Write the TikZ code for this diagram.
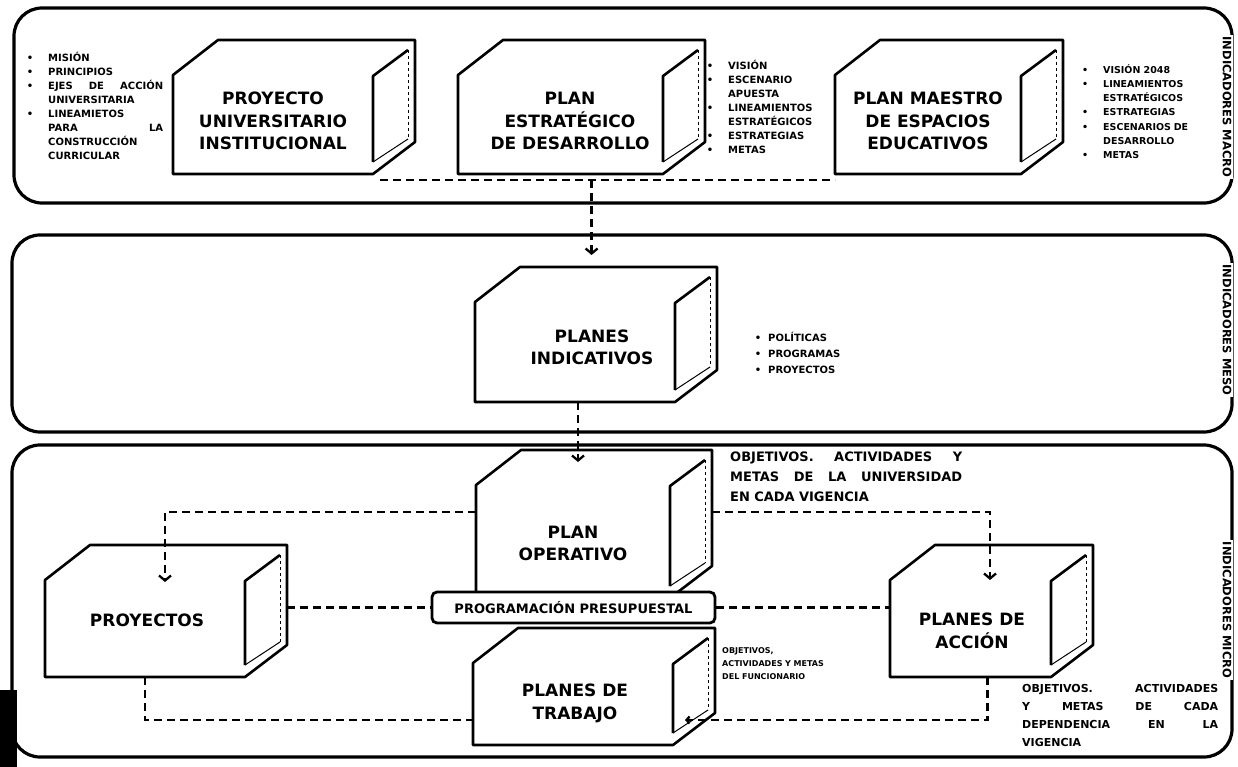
\documentclass[tikz,border=0pt]{standalone}
\usepackage{fontspec}
\setmainfont{DejaVu Sans}
\usetikzlibrary{calc,arrows.meta}
\newcommand{\cubeshape}[1]{%
  \draw[boxline,fill=white] ($(#1.north west)+(0,35)$) -- ($(#1.north west)+(45,0)$) -- (#1.north east) -- ($(#1.south east)+(0,-32)$) -- ($(#1.south east)+(-42,0)$) -- (#1.south west) -- cycle;
  \draw[boxline] ($(#1.south east)+(-42,-12)$) -- ($(#1.north east)+(-42,36)$) -- ($(#1.north east)+(-7,10)$);
  \draw[thinline] ($(#1.south east)+(-42,-12)$) -- ($(#1.south east)+(-7,-35)$);
  \draw[thinline,dashed] ($(#1.north east)+(-7,10)$) -- ($(#1.south east)+(-7,-35)$);
}
\newcommand{\bul}{\leavevmode\llap{\textbullet\hspace{15pt}}}
\newcommand{\sbul}{\leavevmode\llap{\textbullet\hspace{7pt}}}
\begin{document}
\begin{tikzpicture}[x=1pt,y=-1pt,
  boxline/.style={line width=2.6pt,line join=round},
  thinline/.style={line width=1pt},
  region/.style={inner sep=0pt,outer sep=0pt,draw=none},
  bandbox/.style={draw,line width=3.2pt,rounded corners=28pt,inner sep=0pt},
  lbl/.style={font=\fontsize{17}{22.5}\selectfont\bfseries,align=center,inner sep=0pt},
  lst/.style={font=\fontsize{10}{14}\selectfont\bfseries,align=left,inner sep=0pt,anchor=north west},
  txt/.style={align=left,inner sep=0pt,anchor=north west},
  vlab/.style={rotate=-90,fill=white,font=\fontsize{11.5}{13}\selectfont\bfseries,inner sep=1.5pt},
  conn/.style={line width=2.3pt,dash pattern=on 8pt off 5pt},
  arr/.style={-{Straight Barb[length=5pt,width=12pt]}},
  arrs/.style={-{Straight Barb[length=3pt,width=7pt]}}]
\useasboundingbox (0,0) rectangle (1238,767);

% bands
\node[bandbox,minimum width=1218pt,minimum height=195pt] (band1) at (623,105.5) {};
\node[bandbox,minimum width=1220pt,minimum height=197pt] (band2) at (622,333.5) {};
\node[bandbox,minimum width=1220pt,minimum height=312pt] (band3) at (622,601) {};
\node[vlab] (v1) at (1227,107) {INDICADORES MACRO};
\node[vlab] (v2) at (1227,330) {INDICADORES MESO};
\node[vlab] (v3) at (1227,610) {INDICADORES MICRO};
\fill (0,690) rectangle (17,767);

% box regions
\node[region,minimum width=242pt,minimum height=134pt] (b1) at (294,107) {};
\node[region,minimum width=247pt,minimum height=134pt] (b2) at (581.5,107) {};
\node[region,minimum width=228pt,minimum height=134pt] (b3) at (949,107) {};
\node[region,minimum width=242pt,minimum height=135pt] (pi) at (596,334.5) {};
\node[region,minimum width=236pt,minimum height=148pt] (po) at (594,524) {};
\node[region,minimum width=242pt,minimum height=132pt] (pr) at (166,611) {};
\node[region,minimum width=203pt,minimum height=132pt] (pa) at (991.5,611) {};
\node[region,minimum width=242pt,minimum height=117pt] (pt) at (594,686.5) {};
\cubeshape{b1}\cubeshape{b2}\cubeshape{b3}\cubeshape{pi}
\cubeshape{po}\cubeshape{pr}\cubeshape{pa}\cubeshape{pt}

\node[draw,fill=white,line width=2.8pt,rounded corners=5pt,minimum width=283pt,minimum height=31pt,inner sep=0pt,font=\fontsize{13}{15}\selectfont\bfseries] (prog) at (573.5,607.5) {PROGRAMACIÓN PRESUPUESTAL};

% labels
\node[lbl] (b1l) at (273,121) {PROYECTO\\UNIVERSITARIO\\INSTITUCIONAL};
\node[lbl] (b2l) at (570,121) {PLAN\\ESTRATÉGICO\\DE DESARROLLO};
\node[lbl] (b3l) at (928,121) {PLAN MAESTRO\\DE ESPACIOS\\EDUCATIVOS};
\node[lbl] (pil) at (592,347.5) {PLANES\\INDICATIVOS};
\node[lbl] (pol) at (573,543.5) {PLAN\\OPERATIVO};
\node[lbl] (prl) at (147,620) {PROYECTOS};
\node[lbl] (pal) at (972,631) {PLANES DE\\ACCIÓN};
\node[lbl] (ptl) at (575,703.5) {PLANES DE\\TRABAJO};

% lists
\node[lst,text width=115pt] (l1) at (48,52.3) {\bul MISIÓN\\ \bul PRINCIPIOS\\ \bul EJES\hfill DE\hfill ACCIÓN\\ UNIVERSITARIA\\ \bul LINEAMIETOS\\ PARA\hfill LA\\ CONSTRUCCIÓN\\ CURRICULAR};
\node[lst,text width=95pt] (l2) at (728,60.3) {\bul VISIÓN\\ \bul ESCENARIO\\ APUESTA\\ \bul LINEAMIENTOS\\ ESTRATÉGICOS\\ \bul ESTRATEGIAS\\ \bul METAS};
\node[lst,text width=85pt,font=\fontsize{9.5}{14.2}\selectfont\bfseries] (l3) at (1103,64.3) {\bul VISIÓN 2048\\ \bul LINEAMIENTOS\\ ESTRATÉGICOS\\ \bul ESTRATEGIAS\\ \bul ESCENARIOS\hfill DE\\ DESARROLLO\\ \bul METAS};
\node[lst,text width=100pt,font=\fontsize{10}{16}\selectfont\bfseries] (l4) at (768,332) {\sbul POLÍTICAS\\ \sbul PROGRAMAS\\ \sbul PROYECTOS};

\node[txt,text width=232pt,font=\fontsize{13}{20}\selectfont\bfseries] (t1) at (730,452) {OBJETIVOS.\hfill ACTIVIDADES\hfill Y\\ METAS\hfill DE\hfill LA\hfill UNIVERSIDAD\\ EN CADA VIGENCIA};
\node[txt,text width=160pt,font=\fontsize{8}{13}\selectfont\bfseries] (t2) at (722,647) {OBJETIVOS,\\ ACTIVIDADES Y METAS\\ DEL FUNCIONARIO};
\node[txt,text width=196pt,font=\fontsize{11}{18}\selectfont\bfseries] (t3) at (1022,684) {OBJETIVOS.\hfill ACTIVIDADES\\ Y\hfill METAS\hfill DE\hfill CADA\\ DEPENDENCIA\hfill EN\hfill LA\\ VIGENCIA};

% connectors
\coordinate (c1) at ($(b1.south east)+(-35,6)$);
\coordinate (c3) at ($(b3.south west)+(0,6)$);
\draw[conn] (c1) -- (c3);
\coordinate (cm) at ($(c1)!0.465!(c3)$);
\draw[conn,arr] (cm) -- ($(cm |- pi.north)+(0,-12)$);
\coordinate (pb) at ($(pi.south)+(-18,0)$);
\draw[conn,arr] (pb) -- ($(pb |- po.north)+(0,12)$);
\coordinate (poL) at ($(po.west)+(0,-12)$);
\coordinate (poR) at ($(po.east)+(0,-12)$);
\draw[conn,arr] (poL) -| ($(pr.north)+(-1,37)$);
\draw[conn,arr] (poR) -| ($(pa.north)+(-1.5,35)$);
\draw[conn] (pr.east |- prog.west) -- (prog.west);
\draw[conn] (prog.east) -- (prog.east -| pa.west);
\draw[conn] ($(pr.south)+(-21,0)$) |- ($(pt.west)+(0,33.5)$);
\draw[conn,arrs] ($(pa.south)+(-4,0)$) |- ($(pt.east)+(-30,33.5)$);
\end{tikzpicture}
\end{document}
